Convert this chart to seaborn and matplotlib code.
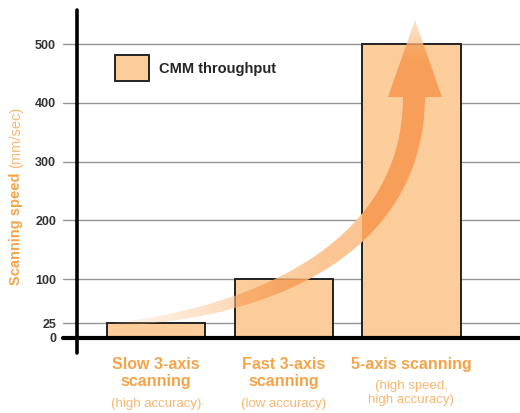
import numpy as np
import pandas as pd
import seaborn as sns
import matplotlib.pyplot as plt
from matplotlib.path import Path
from matplotlib.patches import PathPatch, Patch
from matplotlib.colors import to_rgb

# data
categories = ["Slow 3-axis\nscanning", "Fast 3-axis\nscanning", "5-axis scanning"]
notes = ["(high accuracy)", "(low accuracy)", "(high speed,\nhigh accuracy)"]
speeds = [25, 100, 500]
y_ticks = [0, 25, 100, 200, 300, 400, 500]
legend_label = "CMM throughput"

bar_color = "#FBCD9A"
orange = "#F5A44A"
light_orange = "#F8B770"

sns.set_style("white")
plt.rcParams["font.family"] = ["Liberation Sans", "DejaVu Sans"]

W, H = 520, 413
fig = plt.figure(figsize=(W / 100, H / 100), dpi=100)
ax = fig.add_axes([63 / W, 1 - 338 / H, 457 / W, 328 / H])

df = pd.DataFrame({"cat": categories, "speed": speeds})
sns.barplot(data=df, x="cat", y="speed", color=bar_color, saturation=1,
            edgecolor="#222222", linewidth=1.4, width=0.77, ax=ax, zorder=3)

ax.set_xlim(-0.728, 2.85)
ax.set_ylim(0, 558)
ax.set_yticks(y_ticks)
ax.set_yticklabels([str(v) for v in y_ticks], fontsize=9, fontweight="bold", color="#333333")
ax.tick_params(axis="y", length=0, pad=5)
ax.set_xticks([])
ax.set_xlabel("")
ax.set_ylabel("")
for s in ax.spines.values():
    s.set_visible(False)
ax.set_axisbelow(True)
ax.yaxis.grid(True, color="#959595", linewidth=1)

# thick baseline and vertical axis line
ax.axhline(0, color="black", linewidth=3, zorder=4, clip_on=False)
ax.axvline(-0.618, ymin=-0.045, ymax=1, color="black", linewidth=2.6, zorder=4, clip_on=False)

# category labels under bars
for i, (name, note) in enumerate(zip(categories, notes)):
    ax.text(i, -0.058, name, transform=ax.get_xaxis_transform(), ha="center", va="top",
            fontsize=11.5, fontweight="bold", color=orange, linespacing=1.15)
    if "\n" in note:
        ax.text(i, -0.168, note, transform=ax.get_xaxis_transform(), ha="center", va="center",
                fontsize=9.5, color=light_orange, linespacing=1.3)
    else:
        ax.text(i, -0.2, note, transform=ax.get_xaxis_transform(), ha="center", va="center",
                fontsize=9.5, color=light_orange)

# y axis label in two styles
fig.text(16 / W, 1 - 285 / H, "Scanning speed", rotation=90, ha="center", va="bottom",
         fontsize=10.5, fontweight="bold", color=orange)
fig.text(16 / W, 1 - 168 / H, "(mm/sec)", rotation=90, ha="center", va="bottom",
         fontsize=10.5, color=light_orange)

# legend
ax.legend([Patch(facecolor=bar_color, edgecolor="#222222", linewidth=1.4)], [legend_label],
          loc="upper left", bbox_to_anchor=(115 / W, 1 - 55 / H), bbox_transform=fig.transFigure,
          frameon=False, borderpad=0, borderaxespad=0, handlelength=2.3, handleheight=2.4,
          handletextpad=0.7, prop={"weight": "bold", "size": 10.5})

# curved arrow overlay (multiply-like look: darker where it lies on the bars)
ov = fig.add_axes([0, 0, 1, 1], zorder=5)
ov.set_xlim(0, W)
ov.set_ylim(H, 0)
ov.axis("off")
ov.patch.set_alpha(0)

P = np.array([[105, 325], [260, 315], [414, 250], [414, 96]], dtype=float)
t = np.linspace(0, 1, 120)[:, None]
curve = ((1 - t) ** 3) * P[0] + 3 * ((1 - t) ** 2) * t * P[1] + 3 * (1 - t) * t ** 2 * P[2] + t ** 3 * P[3]
deriv = 3 * (1 - t) ** 2 * (P[1] - P[0]) + 6 * (1 - t) * t * (P[2] - P[1]) + 3 * t ** 2 * (P[3] - P[2])
tang = deriv / np.linalg.norm(deriv, axis=1)[:, None]
normal = np.column_stack([-tang[:, 1], tang[:, 0]])
width = 2 + 20 * (1 - (1 - t[:, 0]) ** 2)
side_a = curve + normal * width[:, None] / 2
side_b = curve - normal * width[:, None] / 2
body = np.vstack([side_a, side_b[::-1], side_a[:1]])
head = np.array([[388, 97], [442, 97], [415, 20], [388, 97]], dtype=float)
arrow_path = Path.make_compound_path(Path(body, closed=True), Path(head, closed=True))

# strength of the arrow per pixel
xx, yy = np.meshgrid(np.arange(W) + 0.5, np.arange(H) + 0.5)
strength = np.clip((xx - 95) / 230, 0, 1) ** 0.9
strength *= np.clip(0.5 + 0.5 * (yy - 20) / 40, 0.5, 1)
m = np.array([0.985, 0.78, 0.58])

# where the bars are, in pixel coordinates
inside = np.zeros((H, W), dtype=bool)
for p in ax.patches:
    (x0, y0), (x1, y1) = ax.transData.transform(p.get_bbox().get_points())
    inside |= (xx >= x0) & (xx <= x1) & (yy >= H - y1) & (yy <= H - y0)

base = np.where(inside[..., None], np.array(to_rgb(bar_color)), 1.0)
rgba = np.zeros((H, W, 4))
rgba[..., :3] = base * m
rgba[..., 3] = strength
im = ov.imshow(rgba, extent=(0, W, H, 0), interpolation="nearest", aspect="auto")
clip = PathPatch(arrow_path, transform=ov.transData, facecolor="none", edgecolor="none")
ov.add_patch(clip)
im.set_clip_path(clip)
ov.set_xlim(0, W)
ov.set_ylim(H, 0)

fig.savefig("out.png", dpi=100)
